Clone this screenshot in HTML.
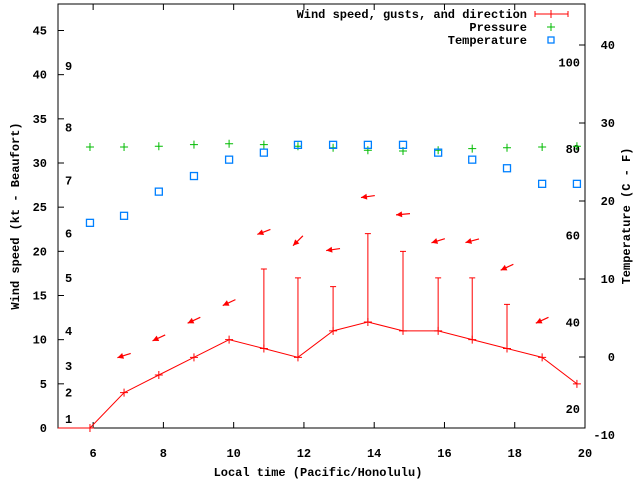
<!DOCTYPE html>
<html><head><meta charset="utf-8"><style>
body{margin:0;background:#fff}
svg text{font-family:"Liberation Mono",monospace;font-weight:bold;font-size:12px;fill:#000}
</style></head><body>
<svg id="c" width="640" height="480" viewBox="0 0 640 480" xmlns="http://www.w3.org/2000/svg">
<rect x="58" y="4" width="527" height="424" fill="none" stroke="#000" stroke-width="1"/>
<g id="axes"></g><g id="marks"></g>
<text x="318" y="476" text-anchor="middle">Local time (Pacific/Honolulu)</text>
<text transform="translate(19,216) rotate(-90)" text-anchor="middle">Wind speed (kt - Beaufort)</text>
<text transform="translate(630,216) rotate(-90)" text-anchor="middle">Temperature (C - F)</text>
<g>
<text x="527" y="18" text-anchor="end">Wind speed, gusts, and direction</text>
<text x="527" y="31" text-anchor="end">Pressure</text>
<text x="527" y="44" text-anchor="end">Temperature</text>
<path d="M535 14H568M535 11V17M568 11V17M551 10V18" stroke="#f00" fill="none"/>
<path d="M547 27H555M551 23V31" stroke="#0b0" fill="none"/>
<rect x="548" y="37" width="6" height="6" fill="none" stroke="#0080ff" stroke-width="1.3"/>
</g>
</svg>
<script>
const times=[5.91,6.88,7.87,8.87,9.87,10.86,11.83,12.83,13.82,14.82,15.82,16.79,17.78,18.78,19.77];
const windSpeed=[0,4,6,8,10,9,8,11,12,11,11,10,9,8,5];
const windGust=[null,null,null,null,null,18,17,16,22,20,17,17,14,null,null];
const windDir=[null,72,65,65,65,69,45,82,82,85,73,75,65,65,null];
const pressure=[1015.0,1015.0,1015.1,1015.3,1015.4,1015.3,1015.1,1014.9,1014.6,1014.5,1014.6,1014.8,1014.9,1015.0,1015.1];
const tempC=[17.2,18.1,21.2,23.2,25.3,26.2,27.2,27.2,27.2,27.2,26.2,25.3,24.2,22.2,22.2];
const xTicks=[6,8,10,12,14,16,18,20];
const yTicks=[0,5,10,15,20,25,30,35,40,45];
const cTicks=[-10,0,10,20,30,40];
const fTicks=[20,40,60,80,100];
const beaufort=[1,4,7,11,17,22,28,34,41];

const X=t=>58+(t-5)*527/15;
const Y=k=>428-k*424/48;
const YC=c=>357-c*7.8;
const YP=p=>187-(p-1010)*8;
const NS="http://www.w3.org/2000/svg";
const ax=document.getElementById('axes'),mk=document.getElementById('marks');
function el(tag,attrs,parent,txt){const e=document.createElementNS(NS,tag);for(const k in attrs)e.setAttribute(k,attrs[k]);if(txt!==undefined)e.textContent=txt;parent.appendChild(e);return e;}

xTicks.forEach(t=>{const x=X(t);
 const p=el('path',{d:`M${x} 428V422M${x} 4V10`,stroke:'#000'},ax);
 
 const tx=el('text',{x:x,y:457,'text-anchor':'middle'},ax,String(t));
 });
yTicks.forEach(v=>{const y=Y(v);
 const p=el('path',{d:`M58 ${y}H64`,stroke:'#000'},ax);
 
 const tx=el('text',{x:47,y:y+4,'text-anchor':'end'},ax,String(v));
 });
cTicks.forEach(v=>{const y=YC(v);
 if(y>4&&y<428){const p=el('path',{d:`M585 ${y}H579`,stroke:'#000'},ax);
 }
 const tx=el('text',{x:615,y:y+4,'text-anchor':'end'},ax,String(v));
 });
fTicks.forEach(v=>{const y=YC((v-32)*5/9);
 const tx=el('text',{x:580,y:y+4,'text-anchor':'end'},ax,String(v));
 });
beaufort.forEach((k,i)=>{
 const tx=el('text',{x:65,y:Y(k)+4},ax,String(i+1));
 });

// wind line
let d=`M58 ${Y(windSpeed[0])}`;
times.forEach((t,i)=>{d+=`L${X(t)} ${Y(windSpeed[i])}`;});
const wl=el('path',{d:d,stroke:'#f00',fill:'none'},mk);

times.forEach((t,i)=>{const x=X(t),y=Y(windSpeed[i]);
 const p=el('path',{d:`M${x-4} ${y}H${x+4}M${x} ${y-4}V${y+4}`,stroke:'#f00'},mk);
 
 if(windGust[i]!==null){const g=Y(windGust[i]);
  const gp=el('path',{d:`M${x} ${y}V${g}M${x-3} ${g}H${x+3}`,stroke:'#f00'},mk);
  }
 if(windDir[i]!==null){const top=windGust[i]!==null?windGust[i]:windSpeed[i];
  const cy=Y(top+4.2),cx=x;
  const r=(windDir[i]+180)*Math.PI/180;const ux=Math.sin(r),uy=-Math.cos(r);
  const hx=cx+ux*7,hy=cy+uy*7,tx=cx-ux*7,ty=cy-uy*7;
  const px=-uy,py=ux;
  const a=el('g',{},mk);
  
  el('path',{d:`M${tx} ${ty}L${hx} ${hy}`,stroke:'#f00','stroke-width':1.2},a);
  el('polygon',{points:`${hx},${hy} ${hx-ux*6+px*3},${hy-uy*6+py*3} ${hx-ux*6-px*3},${hy-uy*6-py*3}`,fill:'#f00'},a);}
});
times.forEach((t,i)=>{const x=X(t),y=YP(pressure[i]);
 const p=el('path',{d:`M${x-4} ${y}H${x+4}M${x} ${y-4}V${y+4}`,stroke:'#0b0'},mk);
 });
times.forEach((t,i)=>{const x=X(t),y=YC(tempC[i]);
 const r=el('rect',{x:x-3.5,y:y-3.5,width:7,height:7,fill:'none',stroke:'#0080ff','stroke-width':1.3},mk);
 });
</script>
</body></html>
